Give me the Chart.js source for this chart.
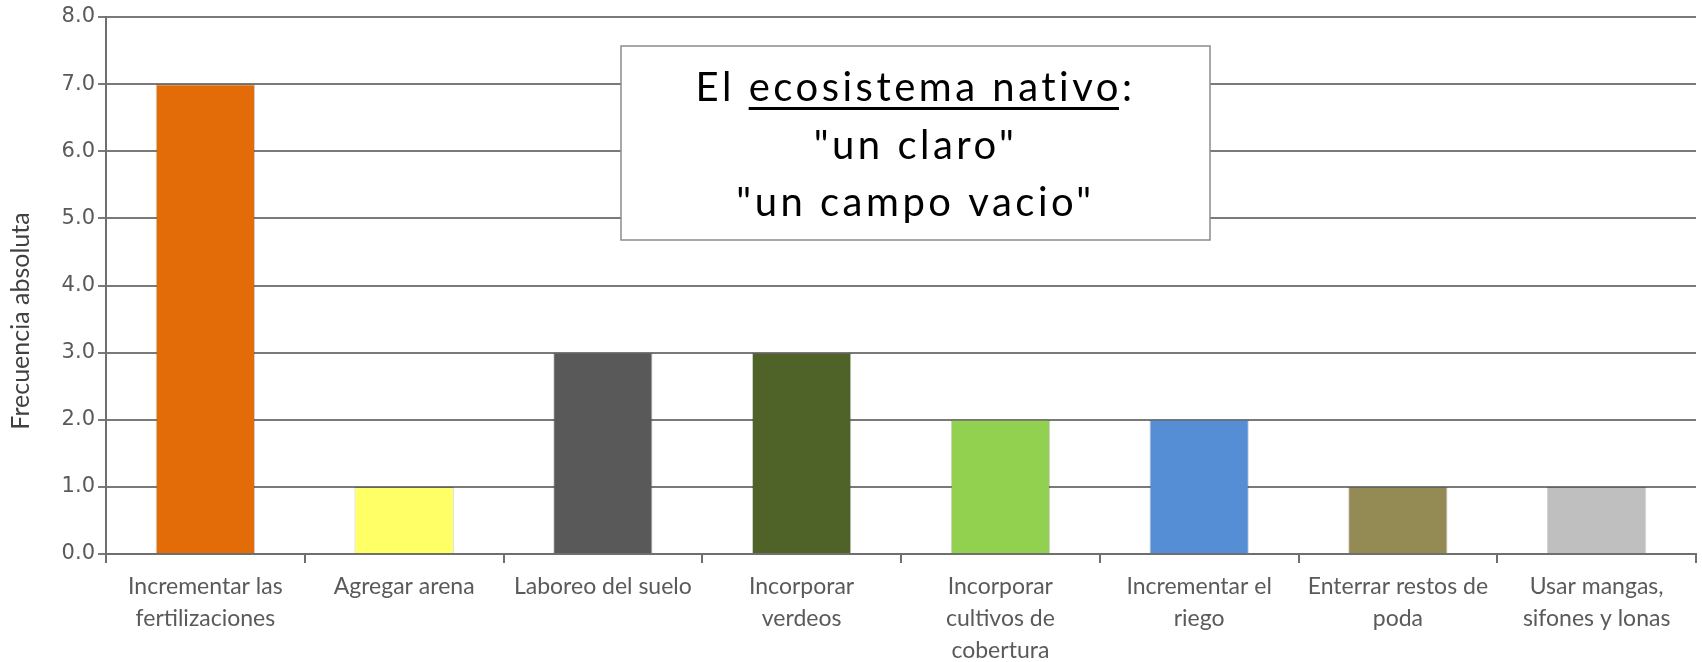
<!DOCTYPE html>
<html>
<head>
<meta charset="utf-8">
<script src="https://cdn.jsdelivr.net/npm/chart.js@4/dist/chart.umd.min.js"></script>
<style>
  html, body { margin: 0; padding: 0; background: #ffffff; }
  #wrap { width: 1702px; height: 662px; position: relative; }
</style>
</head>
<body>
<div id="wrap"><canvas id="c" width="1702" height="662"></canvas></div>
<script>
const categories = [
  ["Incrementar las", "fertilizaciones"],
  ["Agregar arena"],
  ["Laboreo del suelo"],
  ["Incorporar", "verdeos"],
  ["Incorporar", "cultivos de", "cobertura"],
  ["Incrementar el", "riego"],
  ["Enterrar restos de", "poda"],
  ["Usar mangas,", "sifones y lonas"]
];
const frequencies = [7, 1, 3, 3, 2, 2, 1, 1];
const barColors = ["#E36C09", "#FFFF66", "#595959", "#4F6228", "#92D050", "#558ED5", "#948A54", "#BFBFBF"];
const yAxisTitle = "Frecuencia absoluta";
const boxLines = [
  ["El ", "ecosistema nativo", ":"],
  ["\"un claro\""],
  ["\"un campo vacio\""]
];

const overlay = {
  id: 'overlay',
  afterDraw(chart) {
    const ctx = chart.ctx;
    ctx.save();
    // y axis title
    ctx.fillStyle = '#404040';
    ctx.font = '25px Lato, sans-serif';
    ctx.textAlign = 'center';
    ctx.textBaseline = 'middle';
    ctx.translate(21, 321);
    ctx.rotate(-Math.PI / 2);
    ctx.fillText(yAxisTitle, 0, 0);
    ctx.restore();

    // text box
    ctx.save();
    const bx = 621, by = 46, bw = 589, bh = 194;
    ctx.fillStyle = '#ffffff';
    ctx.fillRect(bx, by, bw, bh);
    ctx.strokeStyle = '#8c8c8c';
    ctx.lineWidth = 1.5;
    ctx.strokeRect(bx, by, bw, bh);
    ctx.fillStyle = '#000000';
    ctx.font = '400 40px Lato, sans-serif';
    try { ctx.letterSpacing = '3.5px'; } catch (e) {}
    ctx.textBaseline = 'alphabetic';
    ctx.textAlign = 'left';
    const cx = bx + bw / 2;
    const baselines = [101, 159, 216];
    boxLines.forEach((parts, i) => {
      const total = parts.reduce((s, p) => s + ctx.measureText(p).width, 0);
      let x = cx - total / 2;
      parts.forEach((p, j) => {
        const w = ctx.measureText(p).width;
        ctx.fillText(p, x, baselines[i]);
        if (i === 0 && j === 1) {
          ctx.fillRect(x, baselines[i] + 6, w - 3, 3);
        }
        x += w;
      });
    });
    ctx.restore();
  }
};

new Chart(document.getElementById('c'), {
  type: 'bar',
  data: {
    labels: categories,
    datasets: [{
      data: frequencies,
      backgroundColor: barColors,
      borderColor: 'rgba(0,0,0,0.18)',
      borderWidth: 1,
      categoryPercentage: 1.0,
      barPercentage: 0.5
    }]
  },
  options: {
    responsive: false,
    animation: false,
    devicePixelRatio: 1,
    layout: { padding: { top: 17, right: 6, left: 0, bottom: 0 } },
    plugins: { legend: { display: false }, tooltip: { enabled: false } },
    scales: {
      x: {
        offset: true,
        grid: {
          offset: true,
          drawOnChartArea: false,
          drawTicks: true,
          tickLength: 9,
          color: '#6f6f6f',
          lineWidth: 2
        },
        border: { color: '#6f6f6f', width: 2 },
        ticks: {
          color: '#5a5a5a',
          font: { family: 'Lato, sans-serif', size: 23, lineHeight: 1.4 },
          padding: 7,
          maxRotation: 0,
          autoSkip: false
        },
        afterFit(scale) { scale.height = 108; }
      },
      y: {
        min: 0,
        max: 8,
        ticks: {
          stepSize: 1,
          color: '#5a5a5a',
          font: { family: '"DejaVu Sans", sans-serif', size: 21 },
          padding: 3,
          callback: (v) => Number(v).toFixed(1)
        },
        grid: {
          color: '#7a7a7a',
          lineWidth: 2,
          tickLength: 8
        },
        border: { color: '#6f6f6f', width: 2 },
        afterFit(scale) { scale.width = 106; }
      }
    }
  },
  plugins: [overlay]
});
</script>
</body>
</html>
